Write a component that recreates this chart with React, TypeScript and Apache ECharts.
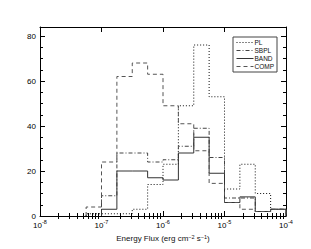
import React, { useEffect, useRef } from "react";
import * as echarts from "echarts";

// Bin edges, as log10 of energy flux (erg cm^-2 s^-1)
const binEdgeExponents = [-7.25, -7, -6.75, -6.5, -6.25, -6, -5.75, -5.5, -5.25, -5, -4.75, -4.5, -4.25, -4];

// Counts per bin
const plCounts = [1, 1, 1, 3, 14, 23, 49, 76, 53, 12, 23, 10, 3];
const sbplCounts = [0, 9, 28, 28, 24, 25, 31, 39, 26, 8, 8, 2, 3];
const bandCounts = [0, 3, 20, 20, 17, 16, 28, 35, 19, 6, 8.5, 2, 3];
const compCounts = [4, 24, 62, 68, 63, 49, 41, 29, 14.5, 6, 3, 2, 3];

const seriesNames = ["PL", "SBPL", "BAND", "COMP"];
const xMajorExponents = [-8, -7, -6, -5, -4];
const yTickLabels = [0, 20, 40, 60, 80];

const FONT = "Liberation Sans, Arial, Helvetica, sans-serif";

function stairs(counts: number[]): number[][] {
  const edges = binEdgeExponents.map((e) => Math.pow(10, e));
  let first = 0;
  while (first < counts.length && counts[first] === 0) first++;
  const pts: number[][] = [[edges[first], 0]];
  for (let i = first; i < counts.length; i++) {
    pts.push([edges[i], counts[i]]);
    pts.push([edges[i + 1], counts[i]]);
  }
  pts.push([edges[counts.length], 0]);
  return pts;
}

function minorExponents(): number[] {
  const out: number[] = [];
  for (let d = xMajorExponents[0]; d < xMajorExponents[xMajorExponents.length - 1]; d++) {
    for (let k = 2; k <= 9; k++) out.push(d + Math.log10(k));
  }
  return out;
}

export default function App() {
  const ref = useRef<HTMLDivElement>(null);
  useEffect(() => {
    document.body.style.margin = "0";
    if (!ref.current) return;
    const chart = echarts.init(ref.current, undefined, { renderer: "svg" });
    const minors = minorExponents();
    const black = "#000";
    const majorX = (pos: "top" | "bottom", labels: boolean) => ({
      type: "log",
      logBase: 10,
      position: pos,
      min: Math.pow(10, xMajorExponents[0]),
      max: Math.pow(10, xMajorExponents[xMajorExponents.length - 1]),
      interval: 1,
      axisLine: { show: true, onZero: false, lineStyle: { color: black, width: 1 } },
      axisTick: { show: true, inside: true, length: 5, lineStyle: { color: black, width: 1 } },
      splitLine: { show: false },
      axisLabel: labels
        ? {
            show: true,
            margin: 3,
            color: black,
            fontFamily: FONT,
            formatter: (v: number) => `{b|10}{s|${Math.round(Math.log10(v))}}`,
            rich: {
              b: { fontSize: 8, fontFamily: FONT, color: black, lineHeight: 10, verticalAlign: "bottom" },
              s: { fontSize: 5.5, fontFamily: FONT, color: black, lineHeight: 10, verticalAlign: "top" },
            },
          }
        : { show: false },
      name: labels ? "Energy Flux (erg cm{s|−2} s{s|−1})" : "",
      nameLocation: "middle",
      nameGap: 12,
      nameTextStyle: {
        fontSize: 8,
        fontFamily: FONT,
        color: "#111",
        rich: {
          s: { fontSize: 5.5, fontFamily: FONT, color: "#111", verticalAlign: "top", lineHeight: 10 },
        },
        lineHeight: 10,
      },
    });
    const minorX = (pos: "top" | "bottom") => ({
      type: "value",
      position: pos,
      min: xMajorExponents[0],
      max: xMajorExponents[xMajorExponents.length - 1],
      axisLine: { show: false },
      axisTick: { show: true, inside: true, length: 3, customValues: minors, lineStyle: { color: black, width: 1 } },
      axisLabel: { show: false },
      splitLine: { show: false },
    });
    const yAx = (pos: "left" | "right", interval: number, len: number, labels: boolean) => ({
      type: "value",
      position: pos,
      min: 0,
      max: 84,
      interval,
      axisLine: { show: interval === 20, onZero: false, lineStyle: { color: black, width: 1 } },
      axisTick: { show: true, inside: true, length: len, lineStyle: { color: black, width: 1 } },
      splitLine: { show: false },
      axisLabel: labels
        ? { show: true, margin: 4, fontSize: 8, fontFamily: FONT, color: black, showMaxLabel: false,
            formatter: (v: number) => (yTickLabels.indexOf(v) >= 0 ? String(v) : "") }
        : { show: false },
    });
    const styles = [
      { color: "#111", type: [1, 2] },
      { color: "#444", type: [4, 2, 1, 2] },
      { color: "#333", type: "solid" },
      { color: "#555", type: [4, 3] },
    ];
    const counts = [plCounts, sbplCounts, bandCounts, compCounts];
    chart.setOption({
      animation: false,
      grid: { left: 40, right: 25, top: 27, bottom: 33, containLabel: false },
      xAxis: [majorX("bottom", true), minorX("bottom"), majorX("top", false), minorX("top")],
      yAxis: [yAx("left", 20, 5, true), yAx("left", 5, 3, false), yAx("right", 20, 5, false), yAx("right", 5, 3, false)],
      legend: {
        show: true,
        orient: "vertical",
        left: 233,
        top: 37,
        padding: [2, 3, 2, 3],
        itemGap: 1,
        itemWidth: 17,
        itemHeight: 5.5,
        borderColor: "#444",
        borderWidth: 1,
        backgroundColor: "#fff",
        itemStyle: { color: "transparent", borderWidth: 0, opacity: 0 },
        lineStyle: { width: 1 },
        textStyle: { fontSize: 6.5, fontFamily: FONT, color: "#111", padding: [0, 0, 0, -4] },
        data: seriesNames,
      },
      series: seriesNames.map((name, i) => ({
        name,
        type: "line",
        xAxisIndex: 0,
        yAxisIndex: 0,
        symbol: "none",
        showSymbol: false,
        data: stairs(counts[i]),
        lineStyle: { color: styles[i].color, width: 1, type: styles[i].type },
        itemStyle: { color: styles[i].color },
        silent: true,
      })),
    });
    return () => chart.dispose();
  }, []);
  return <div ref={ref} style={{ width: 311, height: 249 }} />;
}
